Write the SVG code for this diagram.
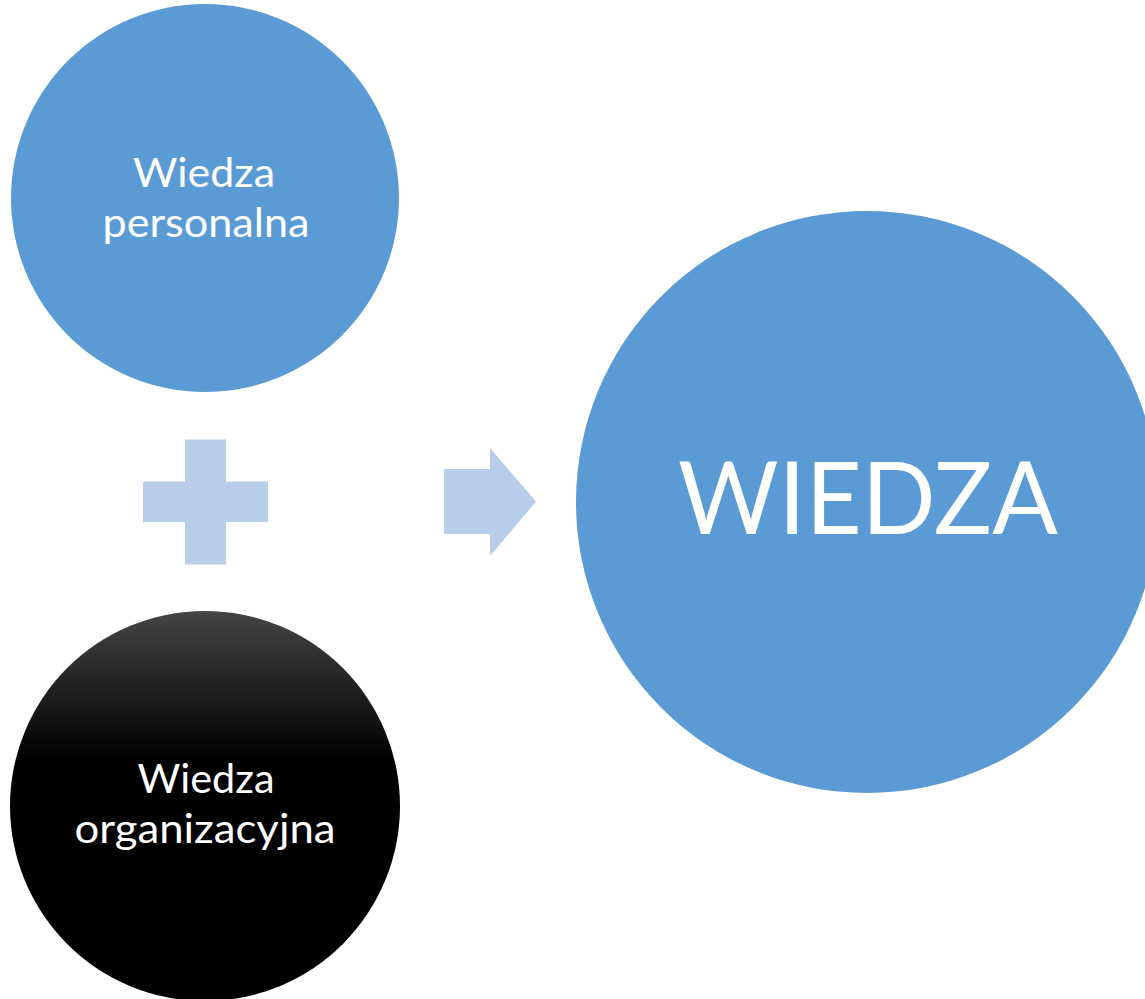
<svg xmlns="http://www.w3.org/2000/svg" width="1145" height="999" viewBox="0 0 1145 999">
<defs>
<linearGradient id="blk" x1="0" y1="0" x2="0" y2="1">
<stop offset="0" stop-color="#454545"/>
<stop offset="0.38" stop-color="#000000"/>
<stop offset="1" stop-color="#000000"/>
</linearGradient>
</defs>
<style>
.blue{fill:#5B9BD5}
.sym{fill:#B7CDE8}
.lbl{font-family:Lato,"Open Sans","Liberation Sans",sans-serif;fill:#FFFFFF;text-anchor:middle}
</style>
<rect width="1145" height="999" fill="#FFFFFF"/>
<g id="node-personalna">
<circle class="blue" cx="205" cy="198" r="194"/>
<text class="lbl" font-size="41" x="204" y="187" textLength="142" lengthAdjust="spacingAndGlyphs">Wiedza</text>
<text class="lbl" font-size="41" x="206" y="237" textLength="207" lengthAdjust="spacingAndGlyphs">personalna</text>
</g>
<g id="node-organizacyjna">
<circle fill="url(#blk)" cx="205" cy="806" r="195"/>
<text class="lbl" font-size="41" x="206" y="793" textLength="137" lengthAdjust="spacingAndGlyphs">Wiedza</text>
<text class="lbl" font-size="41" x="205" y="843" textLength="261" lengthAdjust="spacingAndGlyphs">organizacyjna</text>
</g>
<g id="node-wiedza">
<circle class="blue" cx="867" cy="502" r="291"/>
<text class="lbl" font-size="100" x="868" y="534" textLength="380" lengthAdjust="spacingAndGlyphs">WIEDZA</text>
</g>
<g id="connectors">
<path id="plus" class="sym" d="M185,439.5 H226 V481.5 H268 V522 H226 V564.5 H185 V522 H143 V481.5 H185 Z"/>
<path id="arrow" class="sym" d="M444,469 H490 V448 L536,501.5 L490,556 V534 H444 Z"/>
</g>
</svg>
